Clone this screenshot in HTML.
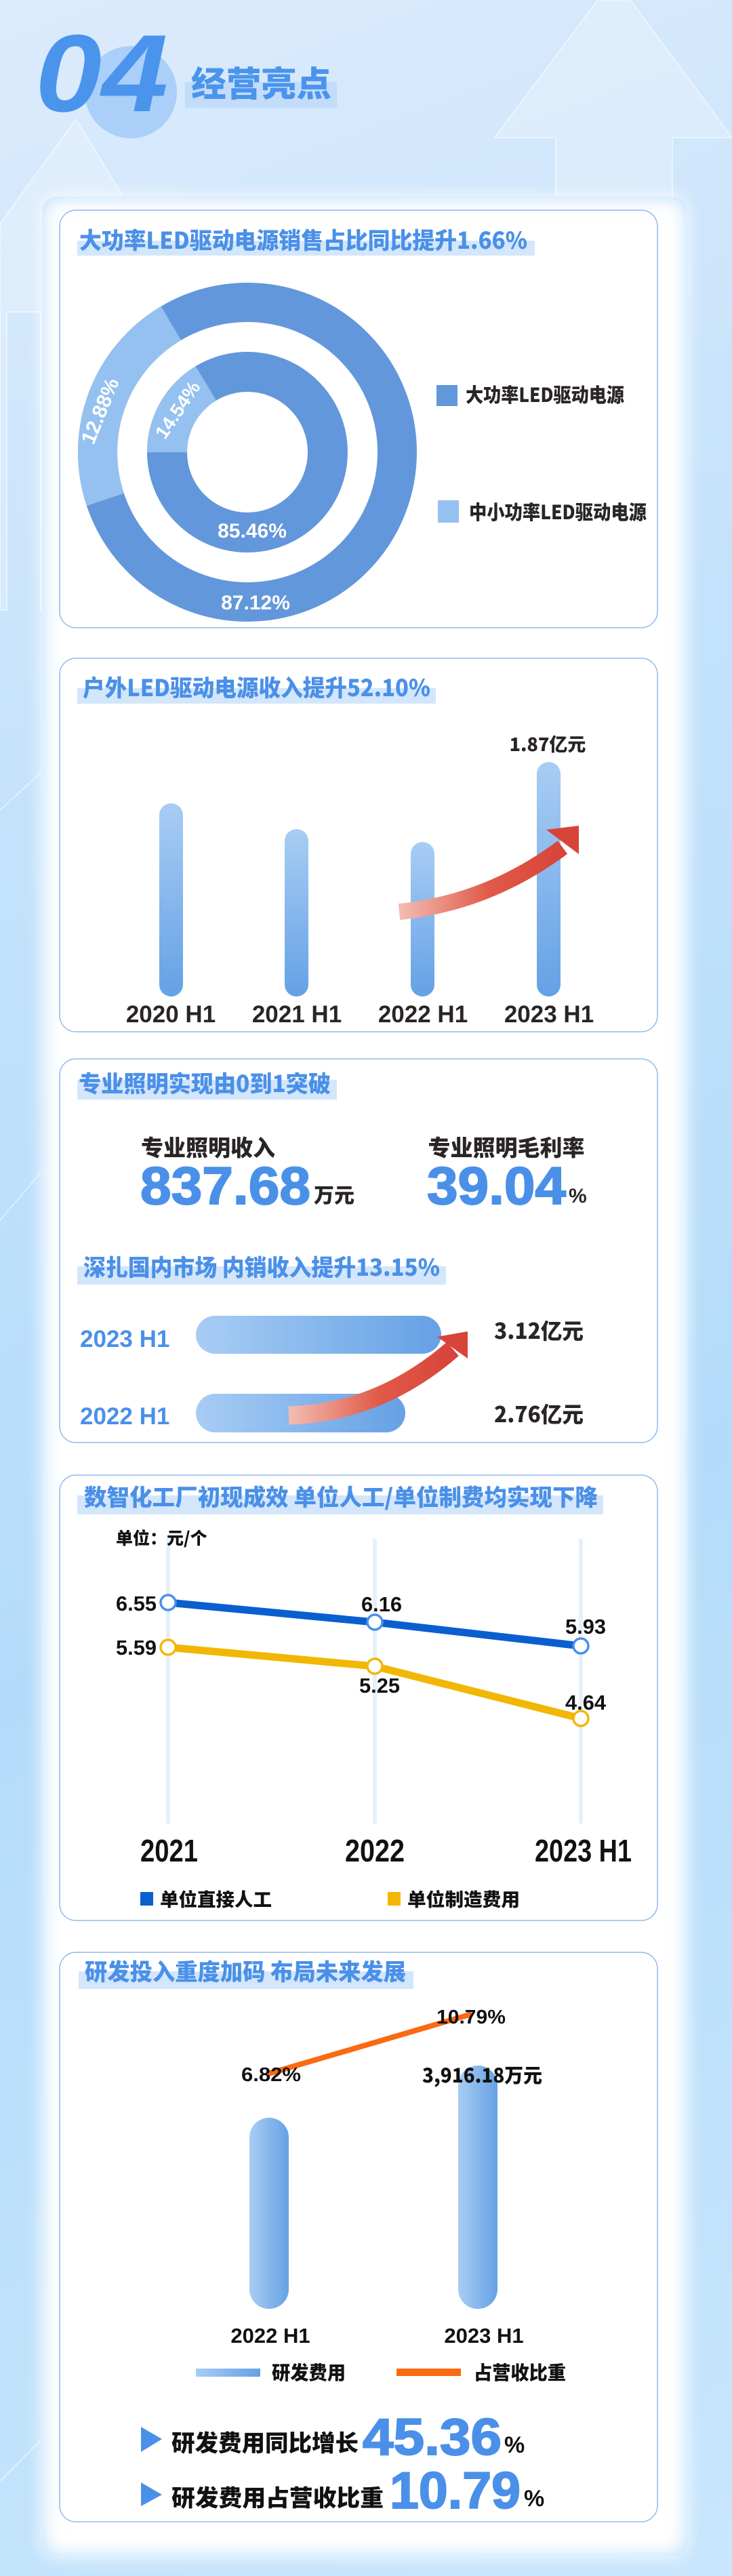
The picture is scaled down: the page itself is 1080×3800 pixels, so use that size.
<!DOCTYPE html>
<html><head><meta charset="utf-8">
<style>
html,body{margin:0;padding:0}
body{width:1080px;height:3800px;position:relative;overflow:hidden;
background:linear-gradient(160deg,#dcebfc 0%,#c4e2fb 30%,#b4dcfa 60%,#c9e6fc 100%);}
.panel{position:absolute;left:62px;top:290px;width:952px;height:3481px;background:#fff;border-radius:22px;
box-shadow:0 0 24px rgba(255,255,255,.9),inset 0 0 28px rgba(120,190,250,.55);}
svg{position:absolute;left:0;top:0}
text{font-family:"Liberation Sans","Noto Sans CJK SC",sans-serif;font-weight:bold}
.cj{font-family:"Noto Sans CJK SC","Liberation Sans",sans-serif;font-weight:900}
</style></head><body>
<svg width="1080" height="3800" style="z-index:0">
<g fill="rgba(255,255,255,0.22)" stroke="rgba(255,255,255,0.5)" stroke-width="2">
<polygon points="730,203 882,0 930,0 1080,203 992,203 992,900 820,900 820,203"/>
<polygon points="112,176 0,330 0,900 10,900 10,460 60,460 60,900 200,900 200,320"/>
</g>
<g fill="none" stroke="rgba(255,255,255,0.45)" stroke-width="2">
<line x1="0" y1="1195" x2="60" y2="1140"/><line x1="0" y1="1800" x2="60" y2="1730"/><line x1="0" y1="3660" x2="60" y2="3600"/>
</g>
<circle cx="193" cy="136" r="68" fill="#aacff9"/>
<rect x="273" y="121" width="224" height="38" fill="#c2dcfa"/>
<text x="52" y="164" font-size="162" font-style="italic" font-weight="900" fill="#4a94ec" textLength="196" lengthAdjust="spacingAndGlyphs">04</text>
<text class="cj" x="282" y="142" font-size="51" fill="#4a94ec" textLength="207" lengthAdjust="spacingAndGlyphs">经营亮点</text>
</svg>
<div class="panel"></div>
<svg width="1080" height="3800" style="z-index:2">
<defs>
<linearGradient id="vb" x1="0" y1="0" x2="0" y2="1"><stop offset="0" stop-color="#a8cdf4"/><stop offset="1" stop-color="#65a1e5"/></linearGradient>
<linearGradient id="hb" x1="0" y1="0" x2="1" y2="0"><stop offset="0" stop-color="#a8cdf4"/><stop offset="1" stop-color="#65a1e5"/></linearGradient>
<linearGradient id="ar" x1="0" y1="0" x2="1" y2="0"><stop offset="0" stop-color="#f3bdb4"/><stop offset="0.55" stop-color="#e05a48"/><stop offset="1" stop-color="#d8443a"/></linearGradient>
</defs>
<g fill="none" stroke="#8fbaee" stroke-width="1.5">
<rect x="88" y="310" width="882" height="616" rx="24"/>
<rect x="88" y="971" width="882" height="551" rx="24"/>
<rect x="88" y="1562" width="882" height="566" rx="24"/>
<rect x="88" y="2176" width="882" height="657" rx="24"/>
<rect x="88" y="2880" width="882" height="840" rx="24"/>
</g>
<g fill="#d3e6fb">
<rect x="114" y="355" width="675" height="22"/>
<rect x="114" y="1015" width="529" height="23"/>
<rect x="114" y="1593" width="383" height="29"/>
<rect x="114" y="1868" width="544" height="27"/>
<rect x="114" y="2206" width="776" height="28"/>
<rect x="116" y="2908" width="494" height="26"/>
</g>
<g class="cj" fill="#4a90e8" font-size="34">
<text class="cj" x="117" y="367" textLength="661" lengthAdjust="spacingAndGlyphs">大功率LED驱动电源销售占比同比提升1.66%</text>
<text class="cj" x="122" y="1027" textLength="513" lengthAdjust="spacingAndGlyphs">户外LED驱动电源收入提升52.10%</text>
<text class="cj" x="116" y="1611" textLength="372" lengthAdjust="spacingAndGlyphs">专业照明实现由0到1突破</text>
<text class="cj" x="123" y="1882" textLength="526" lengthAdjust="spacingAndGlyphs">深扎国内市场 内销收入提升13.15%</text>
<text class="cj" x="124" y="2221" textLength="758" lengthAdjust="spacingAndGlyphs">数智化工厂初现成效 单位人工/单位制费均实现下降</text>
<text class="cj" x="125" y="2921" textLength="474" lengthAdjust="spacingAndGlyphs">研发投入重度加码 布局未来发展</text>
</g>

<circle cx="365" cy="667" r="221" fill="none" stroke="#6397db" stroke-width="58"/>
<circle cx="365" cy="667" r="221" fill="none" stroke="#95c1f0" stroke-width="58" stroke-dasharray="300 1100" stroke-dashoffset="-623"/>
<circle cx="365" cy="667" r="118.5" fill="none" stroke="#6397db" stroke-width="59"/>
<circle cx="365" cy="667" r="118.5" fill="none" stroke="#95c1f0" stroke-width="59" stroke-dasharray="122 700" stroke-dashoffset="-372"/>
<g fill="#fff" font-size="30" text-anchor="middle">
<text x="0" y="0" transform="translate(157,610) rotate(-68)">12.88%</text>
<text x="0" y="0" transform="translate(270,610) rotate(-56)" font-size="28">14.54%</text>
<text x="372" y="793">85.46%</text>
<text x="377" y="899">87.12%</text>
</g>
<rect x="644" y="568" width="31" height="31" fill="#6397db"/>
<rect x="646" y="738" width="31" height="33" fill="#95c1f0"/>
<text class="cj" x="687" y="593" font-size="29" fill="#2a2525" textLength="234" lengthAdjust="spacingAndGlyphs">大功率LED驱动电源</text>
<text class="cj" x="692" y="766" font-size="29" fill="#2a2525" textLength="262" lengthAdjust="spacingAndGlyphs">中小功率LED驱动电源</text>

<g fill="url(#vb)">
<rect x="235" y="1185" width="35" height="285" rx="17.5"/>
<rect x="420" y="1223" width="35" height="247" rx="17.5"/>
<rect x="606" y="1242" width="35" height="228" rx="17.5"/>
<rect x="792" y="1124" width="35" height="346" rx="17.5"/>
</g>
<path d="M589,1345 Q720,1332 830,1250" fill="none" stroke="url(#ar)" stroke-width="24"/>
<polygon points="806,1224 854,1218 854,1260" fill="#d8443a"/>
<g fill="#2a2525" font-size="35" text-anchor="middle" font-weight="900">
<text x="252" y="1508">2020 H1</text><text x="438" y="1508">2021 H1</text>
<text x="624" y="1508">2022 H1</text><text x="810" y="1508">2023 H1</text>
</g>
<text class="cj" x="808" y="1108" font-size="27" fill="#2a2525" text-anchor="middle">1.87亿元</text>

<text class="cj" x="307" y="1705" font-size="33" fill="#2a2525" text-anchor="middle">专业照明收入</text>
<text class="cj" x="747" y="1705" font-size="33" fill="#2a2525" text-anchor="middle">专业照明毛利率</text>
<text x="207" y="1776" font-size="78" font-weight="900" fill="#4a90e8" stroke="#4a90e8" stroke-width="2" textLength="251" lengthAdjust="spacingAndGlyphs">837.68</text>
<text class="cj" x="463" y="1774" font-size="30" fill="#2a2525">万元</text>
<text x="630" y="1776" font-size="78" font-weight="900" fill="#4a90e8" stroke="#4a90e8" stroke-width="2" textLength="205" lengthAdjust="spacingAndGlyphs">39.04</text>
<text x="839" y="1774" font-size="30" fill="#2a2525">%</text>
<rect x="289" y="1941" width="362" height="56" rx="28" fill="url(#hb)"/>
<rect x="289" y="2056" width="309" height="57" rx="28.5" fill="url(#hb)"/>
<g fill="#4a90e8" font-size="35"><text x="118" y="1987">2023 H1</text><text x="118" y="2101">2022 H1</text></g>
<path d="M426,2088 Q560,2084 668,1990" fill="none" stroke="url(#ar)" stroke-width="27"/>
<polygon points="645,1972 690,1964 690,2004" fill="#d8443a"/>
<text class="cj" x="729" y="1975" font-size="32" fill="#2a2525" textLength="132" lengthAdjust="spacingAndGlyphs">3.12亿元</text>
<text class="cj" x="729" y="2098" font-size="32" fill="#2a2525" textLength="132" lengthAdjust="spacingAndGlyphs">2.76亿元</text>

<g stroke="#e6f0fb" stroke-width="6"><line x1="248" y1="2270" x2="248" y2="2690"/><line x1="553" y1="2270" x2="553" y2="2690"/><line x1="857" y1="2270" x2="857" y2="2690"/></g>
<text class="cj" x="171" y="2278" font-size="25" fill="#111">单位：元/个</text>
<polyline points="248,2364 553,2393 857,2428" fill="none" stroke="#0a5fcf" stroke-width="11"/>
<polyline points="248,2430 553,2458 857,2535" fill="none" stroke="#f2b705" stroke-width="11"/>
<g fill="#fff" stroke-width="3.5">
<circle cx="248" cy="2364" r="11" stroke="#4a90e8"/><circle cx="553" cy="2393" r="11" stroke="#4a90e8"/><circle cx="857" cy="2428" r="11" stroke="#4a90e8"/>
<circle cx="248" cy="2430" r="11" stroke="#f2b705"/><circle cx="553" cy="2458" r="11" stroke="#f2b705"/><circle cx="857" cy="2535" r="11" stroke="#f2b705"/>
</g>
<g fill="#111" font-size="31">
<text x="171" y="2376" textLength="60" lengthAdjust="spacingAndGlyphs">6.55</text>
<text x="533" y="2377" textLength="60" lengthAdjust="spacingAndGlyphs">6.16</text>
<text x="834" y="2410" textLength="60" lengthAdjust="spacingAndGlyphs">5.93</text>
<text x="171" y="2441" textLength="60" lengthAdjust="spacingAndGlyphs">5.59</text>
<text x="530" y="2497" textLength="60" lengthAdjust="spacingAndGlyphs">5.25</text>
<text x="834" y="2522" textLength="60" lengthAdjust="spacingAndGlyphs">4.64</text>
<g font-size="46">
<text x="207" y="2746" textLength="85" lengthAdjust="spacingAndGlyphs">2021</text>
<text x="509" y="2746" textLength="88" lengthAdjust="spacingAndGlyphs">2022</text>
<text x="789" y="2746" textLength="143" lengthAdjust="spacingAndGlyphs">2023 H1</text></g>
</g>
<rect x="207" y="2791" width="19" height="20" fill="#0a5fcf"/>
<rect x="572" y="2791" width="19" height="20" fill="#f2b705"/>
<text class="cj" x="236" y="2812" font-size="27" fill="#111" textLength="165" lengthAdjust="spacingAndGlyphs">单位直接人工</text>
<text class="cj" x="601" y="2812" font-size="27" fill="#111" textLength="166" lengthAdjust="spacingAndGlyphs">单位制造费用</text>

<rect x="368" y="3124" width="58" height="282" rx="29" fill="url(#hb)"/>
<rect x="676" y="3047" width="58" height="359" rx="29" fill="url(#hb)"/>
<line x1="396" y1="3059" x2="696" y2="2971" stroke="#fb6a12" stroke-width="8"/>
<g fill="#111" font-size="29">
<text x="644" y="2985" textLength="102" lengthAdjust="spacingAndGlyphs">10.79%</text>
<text x="356" y="3070" textLength="88" lengthAdjust="spacingAndGlyphs">6.82%</text>
<text class="cj" x="623" y="3072" textLength="177" lengthAdjust="spacingAndGlyphs">3,916.18万元</text>
<g font-size="31" text-anchor="middle"><text x="399" y="3456">2022 H1</text><text x="714" y="3456">2023 H1</text></g>
</g>
<rect x="289" y="3494" width="95" height="12" fill="url(#hb)"/>
<rect x="585" y="3494" width="95" height="11" fill="#fb6a12"/>
<text class="cj" x="401" y="3510" font-size="28" fill="#111" textLength="109" lengthAdjust="spacingAndGlyphs">研发费用</text>
<text class="cj" x="699" y="3510" font-size="28" fill="#111" textLength="136" lengthAdjust="spacingAndGlyphs">占营收比重</text>
<polygon points="208,3580 239,3598 208,3617" fill="#4a90e8"/>
<polygon points="208,3662 239,3680 208,3697" fill="#4a90e8"/>
<text class="cj" x="253" y="3616" font-size="34" fill="#111" textLength="276" lengthAdjust="spacingAndGlyphs">研发费用同比增长</text>
<text class="cj" x="253" y="3697" font-size="34" fill="#111" textLength="313" lengthAdjust="spacingAndGlyphs">研发费用占营收比重</text>
<text x="535" y="3621" font-size="76" font-weight="900" fill="#4a90e8" stroke="#4a90e8" stroke-width="2" textLength="205" lengthAdjust="spacingAndGlyphs">45.36</text>
<text x="744" y="3618" font-size="34" fill="#111">%</text>
<text x="575" y="3700" font-size="76" font-weight="900" fill="#4a90e8" stroke="#4a90e8" stroke-width="2" textLength="193" lengthAdjust="spacingAndGlyphs">10.79</text>
<text x="773" y="3697" font-size="34" fill="#111">%</text>
</svg>
</body></html>
